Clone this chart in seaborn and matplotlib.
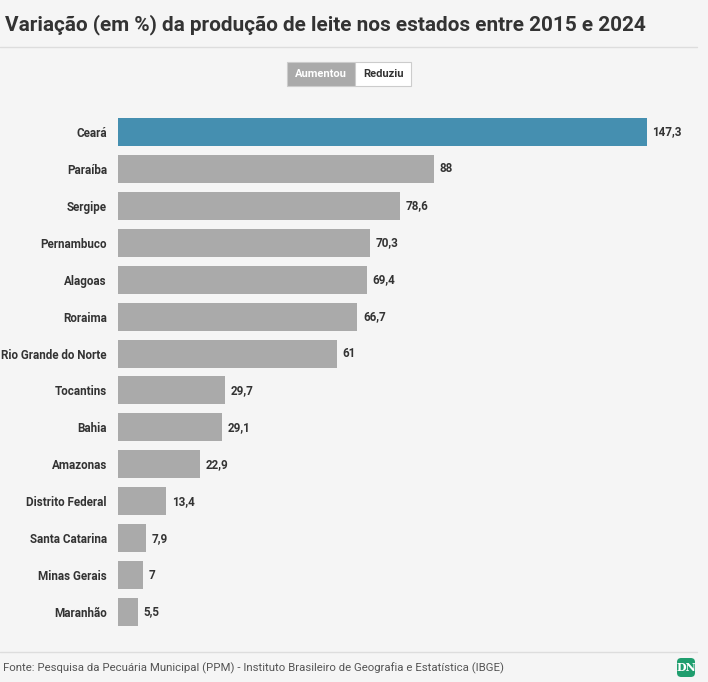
import pandas as pd
import matplotlib.pyplot as plt
import seaborn as sns
from matplotlib.patches import FancyBboxPatch, Rectangle

estados = ["Ceará", "Paraíba", "Sergipe", "Pernambuco", "Alagoas", "Roraima",
           "Rio Grande do Norte", "Tocantins", "Bahia", "Amazonas",
           "Distrito Federal", "Santa Catarina", "Minas Gerais", "Maranhão"]
variacao = [147.3, 88, 78.6, 70.3, 69.4, 66.7, 61, 29.7, 29.1, 22.9,
            13.4, 7.9, 7, 5.5]
rotulos = ["147,3", "88", "78,6", "70,3", "69,4", "66,7", "61", "29,7",
           "29,1", "22,9", "13,4", "7,9", "7", "5,5"]

titulo = "Variação (em %) da produção de leite nos estados entre 2015 e 2024"
fonte = "Fonte: Pesquisa da Pecuária Municipal (PPM) - Instituto Brasileiro de Geografia e Estatística (IBGE)"

BG = "#f5f5f5"
DARK = "#333333"
GRAY = "#aaaaaa"
BLUE = "#458fb0"

sns.set_style("white")
plt.rcParams["font.family"] = ["Roboto", "DejaVu Sans"]

df = pd.DataFrame({"estado": estados, "variacao": variacao})
cores = [BLUE] + [GRAY] * (len(estados) - 1)

fig = plt.figure(figsize=(7.08, 6.82), dpi=100, facecolor=BG)
ax = fig.add_axes([118 / 708, 1 - 630.5 / 682, 572 / 708, 517 / 682])
ax.set_facecolor(BG)

sns.barplot(data=df, x="variacao", y="estado", hue="estado", palette=cores,
            legend=False, width=0.76, saturation=1, linewidth=0, ax=ax)

ax.set_xlim(0, 572 / 3.59)
for i, (v, r) in enumerate(zip(variacao, rotulos)):
    ax.annotate(r, (v, i), xytext=(4, 0), textcoords="offset points",
                va="center", ha="left", fontsize=8.4, fontweight="bold",
                color=DARK)

ax.set_xlabel("")
ax.set_ylabel("")
ax.set_xticks([])
ax.tick_params(axis="y", length=0, pad=8)
for lbl in ax.get_yticklabels():
    lbl.set_fontweight("bold")
    lbl.set_fontsize(8.4)
    lbl.set_color(DARK)
sns.despine(ax=ax, left=True, bottom=True)

# title and rules
fig.text(5 / 708, 1 - 25 / 682, titulo, fontsize=14.95, fontweight="bold",
         color=DARK, va="center", ha="left")
fig.add_artist(plt.Line2D([0, 697 / 708], [1 - 47 / 682] * 2, color="#dddddd", lw=1))
fig.add_artist(plt.Line2D([0, 697 / 708], [1 - 652 / 682] * 2, color="#dddddd", lw=1))

# toggle buttons
fig.add_artist(Rectangle((287 / 708, 1 - 86 / 682), 68 / 708, 24 / 682,
                         facecolor=GRAY, edgecolor="#cccccc", lw=0.8,
                         transform=fig.transFigure))
fig.add_artist(Rectangle((355 / 708, 1 - 86 / 682), 56 / 708, 24 / 682,
                         facecolor="white", edgecolor="#cccccc", lw=0.8,
                         transform=fig.transFigure))
fig.text(321 / 708, 1 - 74 / 682, "Aumentou", fontsize=8, fontweight="bold",
         color="white", ha="center", va="center")
fig.text(383 / 708, 1 - 74 / 682, "Reduziu", fontsize=8, fontweight="bold",
         color=DARK, ha="center", va="center")

# footer
fig.text(3 / 708, 1 - 668 / 682, fonte, fontsize=8.2, color="#555555",
         ha="left", va="center")
fig.add_artist(FancyBboxPatch((677 / 708, 1 - 677 / 682), 18 / 708, 19 / 682,
                              boxstyle="round,pad=0,rounding_size=0.006",
                              facecolor="#1f9e6e", edgecolor="none",
                              transform=fig.transFigure))
fig.text(686 / 708, 1 - 667.5 / 682, "DN", fontsize=8, fontweight="bold",
         color="white", ha="center", va="center", family="DejaVu Serif")

fig.savefig("out.png", dpi=100, facecolor=BG)
